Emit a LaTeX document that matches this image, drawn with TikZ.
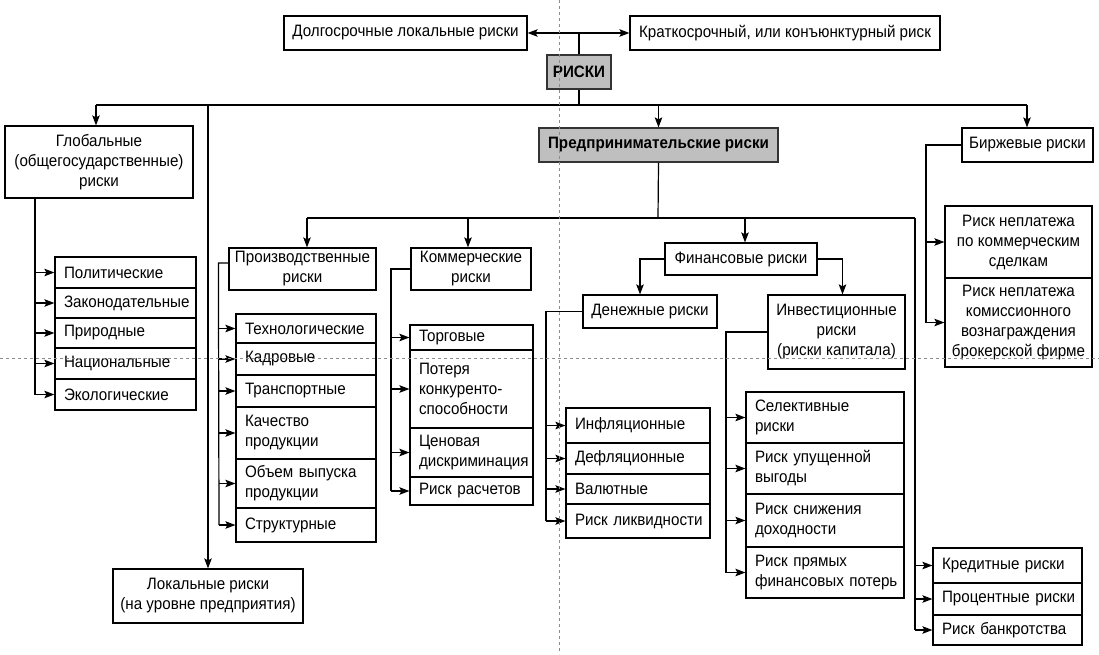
\documentclass[tikz,border=0pt]{standalone}
\usepackage{fontspec}
\setmainfont{Liberation Sans}[FakeStretch=0.92]
\usetikzlibrary{arrows.meta}
\newcommand{\fsz}{\fontsize{16.5}{20}\selectfont\hyphenpenalty=10000\relax}
% centred box: name, x1, y1, x2, y2, text
\newcommand{\boxc}[7][]{%
  \pgfmathsetmacro{\mkw}{#5-#3}\pgfmathsetmacro{\mkh}{#6-#4}%
  \pgfmathsetmacro{\mkx}{(#3+#5)/2}\pgfmathsetmacro{\mky}{(#4+#6)/2}%
  \node[box,align=center,inner xsep=2pt,minimum width=\mkw pt,minimum height=\mkh pt,#1] (#2) at (\mkx,\mky) {#7};}
% left aligned box
\newcommand{\boxl}[7][]{%
  \pgfmathsetmacro{\mkw}{#5-#3}\pgfmathsetmacro{\mkh}{#6-#4}%
  \pgfmathsetmacro{\mkx}{(#3+#5)/2}\pgfmathsetmacro{\mky}{(#4+#6)/2}%
  \pgfmathsetmacro{\mktw}{#5-#3-18}%
  \node[box,align=left,inner xsep=9pt,text width=\mktw pt,minimum width=\mkw pt,minimum height=\mkh pt,#1] (#2) at (\mkx,\mky) {#7};}
\begin{document}
\begin{tikzpicture}[x=1pt,y=-1pt,
  box/.style={draw,line width=1.2pt,inner ysep=0pt,font=\fsz,fill=white},
  grey/.style={fill=black!25,draw=black!80,font=\fsz\bfseries},
  ln/.style={line width=1.2pt},
  arr/.style={ln,-{Stealth[length=10pt,width=7.5pt,inset=2pt]}},
  darr/.style={ln,{Stealth[length=10pt,width=7.5pt,inset=2pt]}-{Stealth[length=10pt,width=7.5pt,inset=2pt]}},
  guide/.style={black!45,line width=0.6pt,dash pattern=on 3pt off 3pt}]
\fill[white] (0,0) rectangle (1099,654);
\useasboundingbox (0,0) rectangle (1099,654);

% top
\boxc{dolg}{284}{16}{527}{50}{Долгосрочные локальные риски}
\boxc{krat}{630}{16}{940}{50}{Краткосрочный, или конъюнктурный риск}
\boxc[grey]{riski}{547}{55}{611}{89}{РИСКИ}

% global
\boxc{glob}{5}{126}{193}{198}{Глобальные\\(общегосударственные)\\риски}
\boxl[inner xsep=8pt]{g1}{55}{257}{196}{288}{Политические}
\boxl[inner xsep=8pt]{g2}{55}{288}{196}{318}{Законодательные}
\boxl[inner xsep=8pt]{g3}{55}{318}{196}{348}{Природные}
\boxl[inner xsep=8pt]{g4}{55}{348}{196}{379}{Национальные}
\boxl[inner xsep=8pt]{g5}{55}{379}{196}{410}{Экологические}

\boxc{local}{113}{569}{303}{623}{Локальные риски\\(на уровне предприятия)}

% entrepreneurial
\boxc[grey]{pred}{539}{128}{778}{162}{Предпринимательские риски}

% exchange
\boxc{birzh}{962}{128}{1093}{162}{Биржевые риски}
\boxc{b1}{945}{206}{1092}{278}{Риск неплатежа\\по коммерческим\\сделкам}
\boxc{b2}{945}{278}{1092}{367}{Риск неплатежа\\комиссионного\\вознаграждения\\брокерской фирме}

% production
\boxc{proizv}{229}{248}{376}{290}{Производственные\\риски}
\boxl{p1}{236}{314}{376}{343}{Технологические}
\boxl{p2}{236}{343}{376}{375}{Кадровые}
\boxl{p3}{236}{375}{376}{407}{Транспортные}
\boxl{p4}{236}{407}{376}{459}{Качество\\продукции}
\boxl{p5}{236}{459}{376}{508}{Объем~выпуска\\продукции}
\boxl{p6}{236}{508}{376}{542}{Структурные}

% commercial
\boxc{komm}{411}{248}{531}{290}{Коммерческие\\риски}
\boxl[inner xsep=7pt]{c1}{410}{325}{533}{350}{Торговые}
\boxl[inner xsep=7pt]{c2}{410}{350}{533}{428}{Потеря\\конкуренто-\\способности}
\boxl[inner xsep=7pt]{c3}{410}{428}{533}{477}{Ценовая\\дискриминация}
\boxl[inner xsep=7pt]{c4}{410}{477}{533}{505}{Риск~расчетов}

% financial
\boxc{fin}{665}{243}{817}{275}{Финансовые риски}
\boxc{den}{583}{295}{717}{328}{Денежные риски}
\boxl{d1}{566}{408}{710}{443}{Инфляционные}
\boxl{d2}{566}{443}{710}{474}{Дефляционные}
\boxl{d3}{566}{474}{710}{504}{Валютные}
\boxl{d4}{566}{504}{710}{538}{Риск~ликвидности}

\boxc{inv}{768}{295}{905}{369}{Инвестиционные\\риски\\(риски капитала)}
\boxl{i1}{746}{392}{904}{443}{Селективные\\риски}
\boxl{i2}{746}{443}{904}{494}{Риск~упущенной\\выгоды}
\boxl{i3}{746}{494}{904}{547}{Риск~снижения\\доходности}
\boxl{i4}{746}{547}{904}{598}{Риск~прямых\\финансовых~потерь}

\boxl{k1}{933}{548}{1082}{583}{Кредитные~риски}
\boxl{k2}{933}{583}{1082}{615}{Процентные~риски}
\boxl{k3}{933}{615}{1082}{645}{Риск~банкротства}

% ---- connectors ----
\draw[darr] (dolg.east) -- (krat.west);
\draw[ln] (riski.north) -- (riski.north |- dolg.east);
\coordinate (bar) at (579,105);
\coordinate (barL) at (96,105);
\coordinate (barR) at (1027,105);
\draw[ln] (riski.south) -- (bar);
\draw[ln] (barL) -- (barR);
\draw[arr] (barL) -- (barL |- glob.north);
\draw[arr] (pred.north |- bar) -- (pred.north);
\draw[arr] (barR) -- (barR |- birzh.north);
\draw[arr] (local.north |- bar) -- (local.north);

\coordinate (gx) at (35,0);
\draw[ln] (gx |- glob.south) -- (gx |- g5.west);
\foreach \n in {g1,g2,g3,g4,g5} \draw[arr] (gx |- \n.west) -- (\n.west);

\coordinate (pb) at (658,218);
\coordinate (pbL) at (307,218);
\coordinate (pbR) at (915,218);
\draw[ln] (pred.south) -- (pb);
\draw[ln] (pbL) -- (pbR);
\draw[arr] (pbL) -- (pbL |- proizv.north);
\draw[arr] ([xshift=-3pt]komm.north |- pb) -- ([xshift=-3pt]komm.north);
\draw[arr] ([xshift=4pt]fin.north |- pb) -- ([xshift=4pt]fin.north);
\draw[ln] (pbR) -- (pbR |- k3.west);
\foreach \n in {k1,k2,k3} \draw[arr] (pbR |- \n.west) -- (\n.west);

\coordinate (px) at (219,0);
\draw[ln] ([yshift=6pt]proizv.west) -- ++(-10,0) -- (px |- p6.west);
\foreach \n in {p1,p2,p3,p4,p5,p6} \draw[arr] (px |- \n.west) -- (\n.west);

\coordinate (cx) at (391,0);
\draw[ln] (komm.west) -- (cx |- komm.west) -- (cx |- c4.west);
\foreach \n in {c1,c2,c3,c4} \draw[arr] (cx |- \n.west) -- (\n.west);

\draw[arr] (fin.west) -| ([xshift=-10pt]den.north);
\draw[arr] (fin.east) -| ([xshift=6pt]inv.north);

\coordinate (dx) at (546,0);
\draw[ln] (den.west) -- (dx |- den.west) -- (dx |- d4.west);
\foreach \n in {d1,d2,d3,d4} \draw[arr] (dx |- \n.west) -- (\n.west);

\coordinate (ix) at (726,0);
\draw[ln] (inv.west) -- (ix |- inv.west) -- (ix |- i4.west);
\foreach \n in {i1,i2,i3,i4} \draw[arr] (ix |- \n.west) -- (\n.west);

\coordinate (bx) at (926,0);
\draw[ln] (birzh.west) -- (bx |- birzh.west) -- (bx |- b2.west);
\foreach \n in {b1,b2} \draw[arr] (bx |- \n.west) -- (\n.west);

% scan guide lines
\draw[guide] (559,0) -- (559,654);
\draw[guide] (0,358) -- (1099,358);
\end{tikzpicture}
\end{document}
